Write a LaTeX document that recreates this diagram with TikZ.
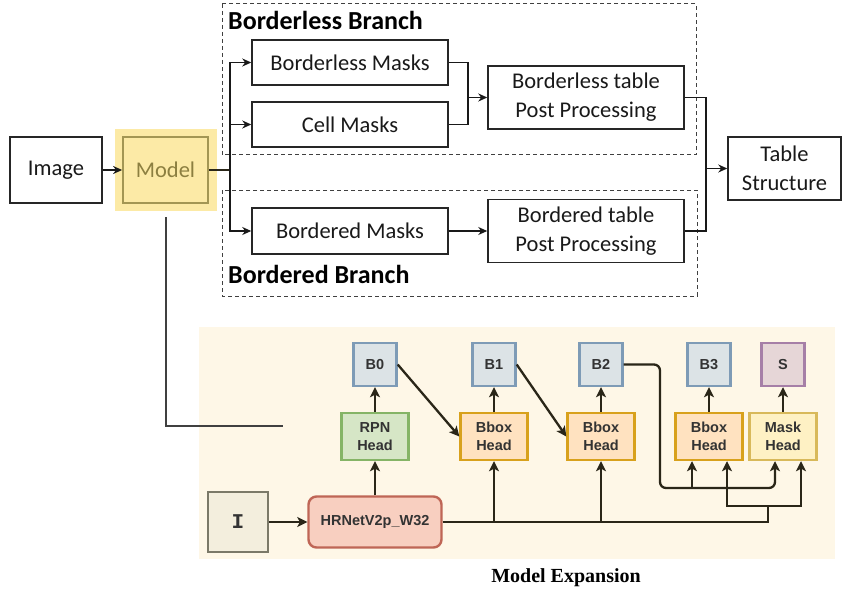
\documentclass[tikz,border=0pt]{standalone}
\usepackage{fontspec}
\setmainfont{Carlito}
\newfontfamily\arialfont{Liberation Sans}
\newfontfamily\courierfont{Liberation Mono}
\newfontfamily\timesfont{Liberation Serif}
\usetikzlibrary{arrows.meta}

\definecolor{modelyellow}{HTML}{FCEAA6}
\definecolor{modelolive}{HTML}{A39654}
\definecolor{modeltext}{HTML}{8C7F40}
\definecolor{panelcream}{HTML}{FEF7E7}
\definecolor{edgedark}{HTML}{2A2618}
\definecolor{bfill}{HTML}{DCE3E6}
\definecolor{bline}{HTML}{7E9BB6}
\definecolor{sfill}{HTML}{E6D6D7}
\definecolor{sline}{HTML}{A67FA7}
\definecolor{rpnfill}{HTML}{D6E6C6}
\definecolor{rpnline}{HTML}{85B466}
\definecolor{bboxfill}{HTML}{FFE2C0}
\definecolor{bboxline}{HTML}{D8A11C}
\definecolor{maskfill}{HTML}{FEF1C4}
\definecolor{maskline}{HTML}{D8B95A}
\definecolor{ifill}{HTML}{F3EEDD}
\definecolor{iline}{HTML}{7B7968}
\definecolor{hrfill}{HTML}{F8CFC0}
\definecolor{hrline}{HTML}{BF6656}

\tikzset{
	stage/.style={draw=black!85, line width=1.5pt, align=center, inner sep=0pt,
		font=\fontsize{22.5}{29}\selectfont, text=black!90},
	branch/.style={draw=black!75, line width=1pt, dash pattern=on 4pt off 3pt},
	branchlabel/.style={anchor=west, inner sep=0pt, font=\fontsize{26}{28}\selectfont\bfseries},
	flow/.style={black!90, line width=1.7pt, -{Stealth[length=9pt,width=8pt]}},
	part/.style={draw, line width=2.4pt, align=center, inner sep=0pt,
		font=\arialfont\bfseries\fontsize{14.5}{17.5}\selectfont, text=black!80},
	link/.style={edgedark, line width=2.3pt},
	linkarrow/.style={link, -{Stealth[length=10pt,width=10pt,inset=2.5pt]}},
}

\begin{document}
\begin{tikzpicture}[x=1pt,y=-1pt]
	\useasboundingbox (0,0) rectangle (842,596);

	%backgrounds
	\fill[panelcream] (199,327) rectangle (835,559);
	\node[fill=modelyellow, minimum width=102, minimum height=82] (modelbg) at (166,170) {};

	%top stages
	\node[stage, minimum width=92, minimum height=66] (image) at (56,170) {Image};
	\node[stage, draw=modelolive, line width=1.8pt, text=modeltext,
		minimum width=85, minimum height=66] (model) at (165.5,170) {Model};
	\node[stage, minimum width=196, minimum height=45] (blmask) at (350,62.5) {Borderless Masks};
	\node[stage, minimum width=196, minimum height=45] (cellmask) at (350,124.5) {Cell Masks};
	\node[stage, minimum width=196, minimum height=63] (blpp) at (586,97.5) {Borderless table\\Post Processing};
	\node[stage, minimum width=196, minimum height=46] (bdmask) at (350,231) {Bordered Masks};
	\node[stage, minimum width=196, minimum height=63] (bdpp) at (586,231) {Bordered table\\Post Processing};
	\node[stage, minimum width=113, minimum height=63] (table) at (784.5,168.5) {Table\\Structure};

	%branch frames
	\draw[branch] (222,4) rectangle (696,155);
	\draw[branch] (222,190) rectangle (697,296);
	\node[branchlabel] (bllabel) at (228,20) {Borderless Branch};
	\node[branchlabel] (bdlabel) at (228,274) {Bordered Branch};

	%top connectors
	\coordinate (split) at (230,170);
	\coordinate (blmerge) at (468,97.5);
	\coordinate (allmerge) at (706,168.5);
	\draw[flow] (image) -- (model);
	\draw[link] (model.east) -- (split);
	\draw[flow] (split) |- (blmask.west);
	\draw[flow] (split) |- (cellmask.west);
	\draw[flow] (split) |- (bdmask.west);
	\draw[flow, -] (blmask.east) -| (blmerge);
	\draw[flow, -] (cellmask.east) -| (blmerge);
	\draw[flow] (blmerge) -- (blpp.west);
	\draw[flow] (bdmask) -- (bdpp);
	\draw[flow, -] (blpp.east) -| (allmerge);
	\draw[flow, -] (bdpp.east) -| (allmerge);
	\draw[flow] (allmerge) -- (table.west);

	%expansion pointer
	\coordinate (expand) at (283,426);
	\draw[black!75, line width=1.4pt] ([yshift=-6pt]modelbg.south) |- (expand);

	%outputs
	\node[part, fill=bfill, draw=bline, minimum size=43] (b0) at (375,364.5) {B0};
	\node[part, fill=bfill, draw=bline, minimum size=43] (b1) at (494,364.5) {B1};
	\node[part, fill=bfill, draw=bline, minimum size=43] (b2) at (601,364.5) {B2};
	\node[part, fill=bfill, draw=bline, minimum size=43] (b3) at (709,364.5) {B3};
	\node[part, fill=sfill, draw=sline, minimum size=43] (s) at (783,364.5) {S};

	%heads
	\node[part, fill=rpnfill, draw=rpnline, minimum width=67, minimum height=47] (rpn) at (375,436.5) {RPN\\Head};
	\node[part, fill=bboxfill, draw=bboxline, minimum width=67, minimum height=47] (bbox1) at (494,436.5) {Bbox\\Head};
	\node[part, fill=bboxfill, draw=bboxline, minimum width=67, minimum height=47] (bbox2) at (601,436.5) {Bbox\\Head};
	\node[part, fill=bboxfill, draw=bboxline, minimum width=67, minimum height=47] (bbox3) at (709,436.5) {Bbox\\Head};
	\node[part, fill=maskfill, draw=maskline, minimum width=67, minimum height=47] (mask) at (783,436.5) {Mask\\Head};

	%input and backbone
	\node[part, fill=ifill, draw=iline, minimum size=60,
		font=\courierfont\bfseries\fontsize{21}{21}\selectfont] (inimg) at (238,522) {I};
	\node[part, fill=hrfill, draw=hrline, rounded corners=8pt,
		minimum width=133, minimum height=51] (hrnet) at (375,522) {HRNetV2p\_W32};

	%bottom connectors
	\draw[linkarrow] (inimg) -- (hrnet);
	\draw[linkarrow] (hrnet) -- (rpn);
	\draw[linkarrow] (rpn) -- (b0);
	\draw[linkarrow] (bbox1) -- (b1);
	\draw[linkarrow] (bbox2) -- (b2);
	\draw[linkarrow] (bbox3) -- (b3);
	\draw[linkarrow] (mask) -- (s);
	\draw[linkarrow] (b0.east) -- (bbox1.west);
	\draw[linkarrow] (b1.east) -- (bbox2.west);

	\coordinate (trunkend) at (768,506);
	\draw[link] (hrnet.east) -| (trunkend);
	\draw[linkarrow] (hrnet.east -| bbox1.south) -- (bbox1.south);
	\draw[linkarrow] (hrnet.east -| bbox2.south) -- (bbox2.south);
	\draw[linkarrow] (trunkend) -| ([xshift=18pt]bbox3.south);
	\draw[linkarrow] (trunkend) -| ([xshift=18pt]mask.south);

	\coordinate (b2turn) at (660,488);
	\coordinate (b3in) at ([xshift=-17pt]bbox3.south);
	\draw[linkarrow, rounded corners=6pt] (b2.east) -| (b2turn) -| ([xshift=-8pt]mask.south);
	\draw[linkarrow] (b3in |- b2turn) -- (b3in);

	%caption
	\node[font=\timesfont\bfseries\fontsize{20}{22}\selectfont] (caption) at (566,578) {Model Expansion};
\end{tikzpicture}
\end{document}
